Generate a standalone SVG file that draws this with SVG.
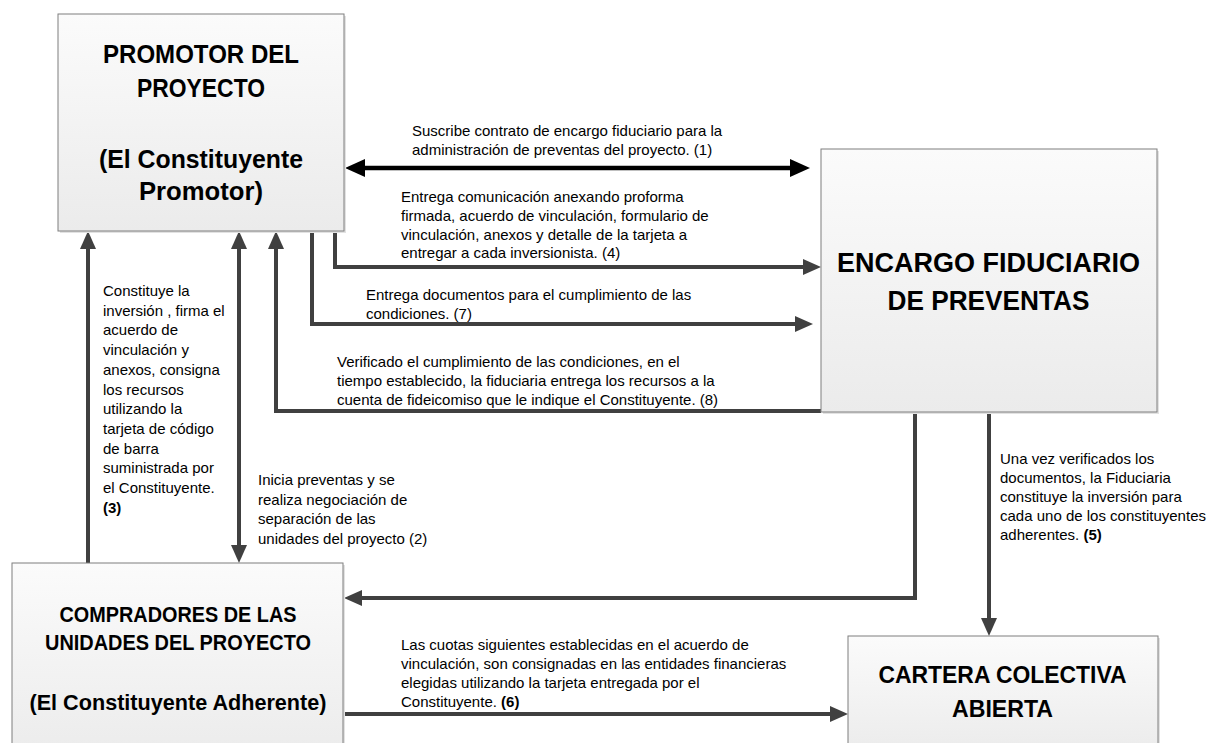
<svg xmlns="http://www.w3.org/2000/svg" width="1208" height="743" viewBox="0 0 1208 743">
<defs>
<linearGradient id="boxfill" x1="0" y1="0" x2="0" y2="1">
<stop offset="0" stop-color="#fbfbfb"/>
<stop offset="1" stop-color="#ebebeb"/>
</linearGradient>
<marker id="ag" viewBox="0 0 18 16" markerUnits="userSpaceOnUse" markerWidth="18" markerHeight="16" refX="8" refY="8" orient="auto-start-reverse">
<path d="M0,0 L18,8 L0,16 Z" fill="#404040"/>
</marker>
<marker id="ab" viewBox="0 0 20 18" markerUnits="userSpaceOnUse" markerWidth="20" markerHeight="18" refX="10" refY="9" orient="auto-start-reverse">
<path d="M0,0 L20,9 L0,18 Z" fill="#000000"/>
</marker>
</defs>
<style>
.box{fill:url(#boxfill);stroke:#7f7f7f;stroke-width:1}
.shadow{fill:#e2e2e2}
.title{font-family:"Liberation Sans",Arial,sans-serif;font-weight:bold;fill:#000;text-anchor:middle}
.lbl{font-family:"Liberation Sans",Arial,sans-serif;font-size:15px;fill:#000}
.b{font-weight:bold}
.con{fill:none;stroke:#404040;stroke-width:4;stroke-linejoin:miter}
.conb{fill:none;stroke:#000;stroke-width:4.5}
</style>
<rect width="1208" height="743" fill="#ffffff"/>

<g id="connectors">
<path id="c1" class="conb" d="M355,168 H800" marker-start="url(#ab)" marker-end="url(#ab)"/>
<path id="c4" class="con" d="M335,231 V267 H811" marker-end="url(#ag)"/>
<path id="c7" class="con" d="M312,231 V324 H803" marker-end="url(#ag)"/>
<path id="c8" class="con" d="M821,411 H276 V241" marker-end="url(#ag)"/>
<path id="c3" class="con" d="M88,563 V241" marker-end="url(#ag)"/>
<path id="c2" class="con" d="M239,241 V553" marker-start="url(#ag)" marker-end="url(#ag)"/>
<path id="cf" class="con" d="M915,412 V598 H354" marker-end="url(#ag)"/>
<path id="c5" class="con" d="M989,412 V626" marker-end="url(#ag)"/>
<path id="c6" class="con" d="M343,714 H838" marker-end="url(#ag)"/>
</g>

<g id="node-promotor">
<rect class="shadow" x="60" y="16" width="286" height="217"/>
<rect class="box" x="58" y="14" width="286" height="217"/>
<text class="title" font-size="25" x="201" y="63" textLength="196" lengthAdjust="spacingAndGlyphs">PROMOTOR DEL</text>
<text class="title" font-size="25" x="201" y="97" textLength="128" lengthAdjust="spacingAndGlyphs">PROYECTO</text>
<text class="title" font-size="25" x="201" y="168" textLength="204" lengthAdjust="spacingAndGlyphs">(El Constituyente</text>
<text class="title" font-size="25" x="201" y="200" textLength="124" lengthAdjust="spacingAndGlyphs">Promotor)</text>
</g>

<g id="node-encargo">
<rect class="shadow" x="823" y="151" width="336" height="263"/>
<rect class="box" x="821" y="149" width="336" height="263"/>
<text class="title" font-size="27" x="988.5" y="272" textLength="303" lengthAdjust="spacingAndGlyphs">ENCARGO FIDUCIARIO</text>
<text class="title" font-size="27" x="988.5" y="310" textLength="202" lengthAdjust="spacingAndGlyphs">DE PREVENTAS</text>
</g>

<g id="node-compradores">
<rect class="shadow" x="14" y="565" width="331" height="200"/>
<rect class="box" x="12" y="563" width="331" height="200"/>
<text class="title" font-size="22" x="178" y="622" textLength="237" lengthAdjust="spacingAndGlyphs">COMPRADORES DE LAS</text>
<text class="title" font-size="22" x="178" y="650" textLength="266" lengthAdjust="spacingAndGlyphs">UNIDADES DEL PROYECTO</text>
<text class="title" font-size="22" x="178" y="710" textLength="297" lengthAdjust="spacingAndGlyphs">(El Constituyente Adherente)</text>
</g>

<g id="node-cartera">
<rect class="shadow" x="850" y="638" width="310" height="120"/>
<rect class="box" x="848" y="636" width="310" height="120"/>
<text class="title" font-size="24" x="1002.5" y="683" textLength="248" lengthAdjust="spacingAndGlyphs">CARTERA COLECTIVA</text>
<text class="title" font-size="24" x="1002.5" y="717" textLength="101" lengthAdjust="spacingAndGlyphs">ABIERTA</text>
</g>

<g id="labels">
<text class="lbl" x="412" y="136">Suscribe contrato de encargo fiduciario para la</text>
<text class="lbl" x="412" y="155">administración de preventas del proyecto. (1)</text>

<text class="lbl" x="401" y="202">Entrega comunicación anexando proforma</text>
<text class="lbl" x="401" y="221">firmada, acuerdo de vinculación, formulario de</text>
<text class="lbl" x="401" y="239.5">vinculación, anexos y detalle de la tarjeta a</text>
<text class="lbl" x="401" y="258">entregar a cada inversionista. (4)</text>

<text class="lbl" x="366" y="300">Entrega documentos para el cumplimiento de las</text>
<text class="lbl" x="366" y="319">condiciones. (7)</text>

<text class="lbl" x="337" y="367">Verificado el cumplimiento de las condiciones, en el</text>
<text class="lbl" x="337" y="386">tiempo establecido, la fiduciaria entrega los recursos a la</text>
<text class="lbl" x="337" y="405">cuenta de fideicomiso que le indique el Constituyente. (8)</text>

<text class="lbl" x="103" y="296">Constituye la</text>
<text class="lbl" x="103" y="315.7">inversión , firma el</text>
<text class="lbl" x="103" y="335.4">acuerdo de</text>
<text class="lbl" x="103" y="355.1">vinculación y</text>
<text class="lbl" x="103" y="374.8">anexos, consigna</text>
<text class="lbl" x="103" y="394.5">los recursos</text>
<text class="lbl" x="103" y="414.2">utilizando la</text>
<text class="lbl" x="103" y="433.9">tarjeta de código</text>
<text class="lbl" x="103" y="453.6">de barra</text>
<text class="lbl" x="103" y="473.3">suministrada por</text>
<text class="lbl" x="103" y="493">el Constituyente.</text>
<text class="lbl b" x="103" y="512.7">(3)</text>

<text class="lbl" x="258" y="485">Inicia preventas y se</text>
<text class="lbl" x="258" y="504.5">realiza negociación de</text>
<text class="lbl" x="258" y="524">separación de las</text>
<text class="lbl" x="258" y="543.5">unidades del proyecto (2)</text>

<text class="lbl" x="1000" y="464">Una vez verificados los</text>
<text class="lbl" x="1000" y="483">documentos, la Fiduciaria</text>
<text class="lbl" x="1000" y="502">constituye la inversión para</text>
<text class="lbl" x="1000" y="521">cada uno de los constituyentes</text>
<text class="lbl" x="1000" y="540">adherentes. <tspan class="b">(5)</tspan></text>

<text class="lbl" x="401" y="650">Las cuotas siguientes establecidas en el acuerdo de</text>
<text class="lbl" x="401" y="669">vinculación, son consignadas en las entidades financieras</text>
<text class="lbl" x="401" y="688">elegidas utilizando la tarjeta entregada por el</text>
<text class="lbl" x="401" y="707">Constituyente. <tspan class="b">(6)</tspan></text>
</g>
</svg>
